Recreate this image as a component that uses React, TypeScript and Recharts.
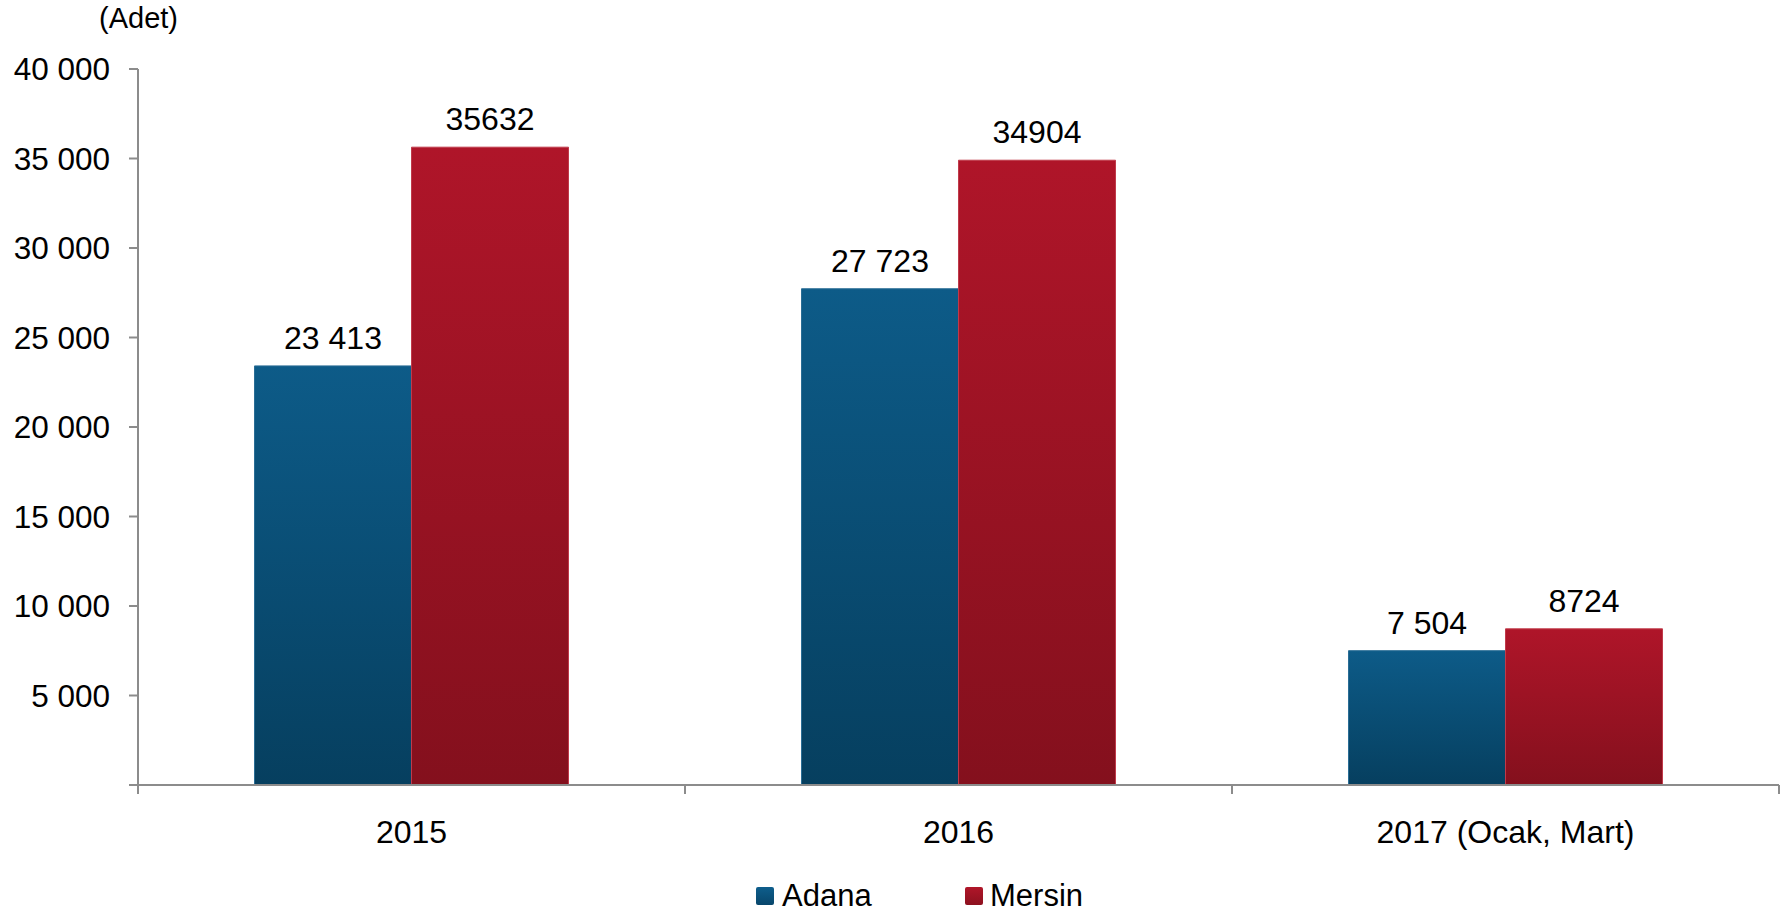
import React from "react";
import { BarChart, Bar, XAxis, YAxis, Legend, LabelList } from "recharts";

const categories = ["2015", "2016", "2017 (Ocak, Mart)"];
const adana = [23413, 27723, 7504];
const mersin = [35632, 34904, 8724];
const yTicks = [0, 5000, 10000, 15000, 20000, 25000, 30000, 35000, 40000];

const data = categories.map((c, i) => ({ cat: c, Adana: adana[i], Mersin: mersin[i] }));

const FONT = "'Liberation Sans', Arial, sans-serif";
const AXIS = "#8c8c8c";
const X_TICK_MARGIN = 35;
const X_TICK_LEN = 9;

const fmtSpace = (v: number) => (v === 0 ? "" : String(v).replace(/\B(?=(\d{3})+(?!\d))/g, " "));

const CatTick = (props: any) => {
  const { x, y, payload, index, visibleTicksCount } = props;
  const off = payload && typeof payload.offset === "number" ? payload.offset : 0;
  const axisY = y - X_TICK_MARGIN;
  const isLast = index === (visibleTicksCount ?? 3) - 1;
  return (
    <g>
      <line x1={x - off} x2={x - off} y1={axisY} y2={axisY + X_TICK_LEN} stroke={AXIS} strokeWidth={2} />
      {isLast ? <line x1={x + off} x2={x + off} y1={axisY} y2={axisY + X_TICK_LEN} stroke={AXIS} strokeWidth={2} /> : null}
      <text x={x} y={y} dy="0.71em" textAnchor="middle" fill="#000" fontSize={32} fontFamily={FONT}>
        {payload.value}
      </text>
    </g>
  );
};

const LegendContent = () => (
  <div style={{ position: "relative", height: 40, fontFamily: FONT, fontSize: 31, color: "#000" }}>
    <div style={{ position: "absolute", left: 756, top: 13, width: 18, height: 18, background: "linear-gradient(#0e5e8c,#08466b)", borderRadius: 2 }} />
    <div style={{ position: "absolute", left: 782, top: 4, lineHeight: "36px" }}>Adana</div>
    <div style={{ position: "absolute", left: 965, top: 13, width: 18, height: 18, background: "linear-gradient(#b01629,#8d111f)", borderRadius: 2 }} />
    <div style={{ position: "absolute", left: 990, top: 4, lineHeight: "36px" }}>Mersin</div>
  </div>
);

export default function App() {
  return (
    <div style={{ position: "absolute", left: 0, top: 0, width: 1787, height: 914, background: "#fff", fontFamily: FONT }}>
      <div style={{ position: "absolute", left: 99, top: 0, fontSize: 29, lineHeight: "36px", color: "#000" }}>(Adet)</div>
      <BarChart
        width={1787}
        height={914}
        data={data}
        margin={{ top: 69, right: 8, left: 0, bottom: 0 }}
        barCategoryGap="21.3%"
        barGap={0}
      >
        <defs>
          <linearGradient id="gAdana" x1="0" y1="0" x2="0" y2="1">
            <stop offset="0%" stopColor="#0d5b88" />
            <stop offset="100%" stopColor="#063f5f" />
          </linearGradient>
          <linearGradient id="gMersin" x1="0" y1="0" x2="0" y2="1">
            <stop offset="0%" stopColor="#af1529" />
            <stop offset="100%" stopColor="#84101d" />
          </linearGradient>
        </defs>
        <XAxis
          dataKey="cat"
          height={89}
          axisLine={{ stroke: AXIS, strokeWidth: 2 }}
          tickLine={false}
          tickSize={0}
          tickMargin={X_TICK_MARGIN}
          interval={0}
          tick={<CatTick />}
        />
        <YAxis
          width={138}
          domain={[0, 40000]}
          ticks={yTicks}
          interval={0}
          tickFormatter={fmtSpace}
          tickSize={9}
          tickMargin={19}
          axisLine={{ stroke: AXIS, strokeWidth: 2 }}
          tickLine={{ stroke: AXIS, strokeWidth: 2 }}
          tick={{ fill: "#000", fontSize: 31.5, fontFamily: FONT }}
        />
        <Legend verticalAlign="bottom" height={40} wrapperStyle={{ left: 0, width: 1787 }} content={<LegendContent />} />
        <Bar dataKey="Adana" fill="url(#gAdana)" stroke="#2a6d95" strokeWidth={1} isAnimationActive={false}>
          <LabelList dataKey="Adana" position="top" offset={17} formatter={(v: any) => fmtSpace(Number(v))} style={{ fill: "#000", fontSize: 32, fontFamily: FONT }} />
        </Bar>
        <Bar dataKey="Mersin" fill="url(#gMersin)" stroke="#c03a4a" strokeWidth={1} isAnimationActive={false}>
          <LabelList dataKey="Mersin" position="top" offset={17} style={{ fill: "#000", fontSize: 32, fontFamily: FONT }} />
        </Bar>
      </BarChart>
    </div>
  );
}
